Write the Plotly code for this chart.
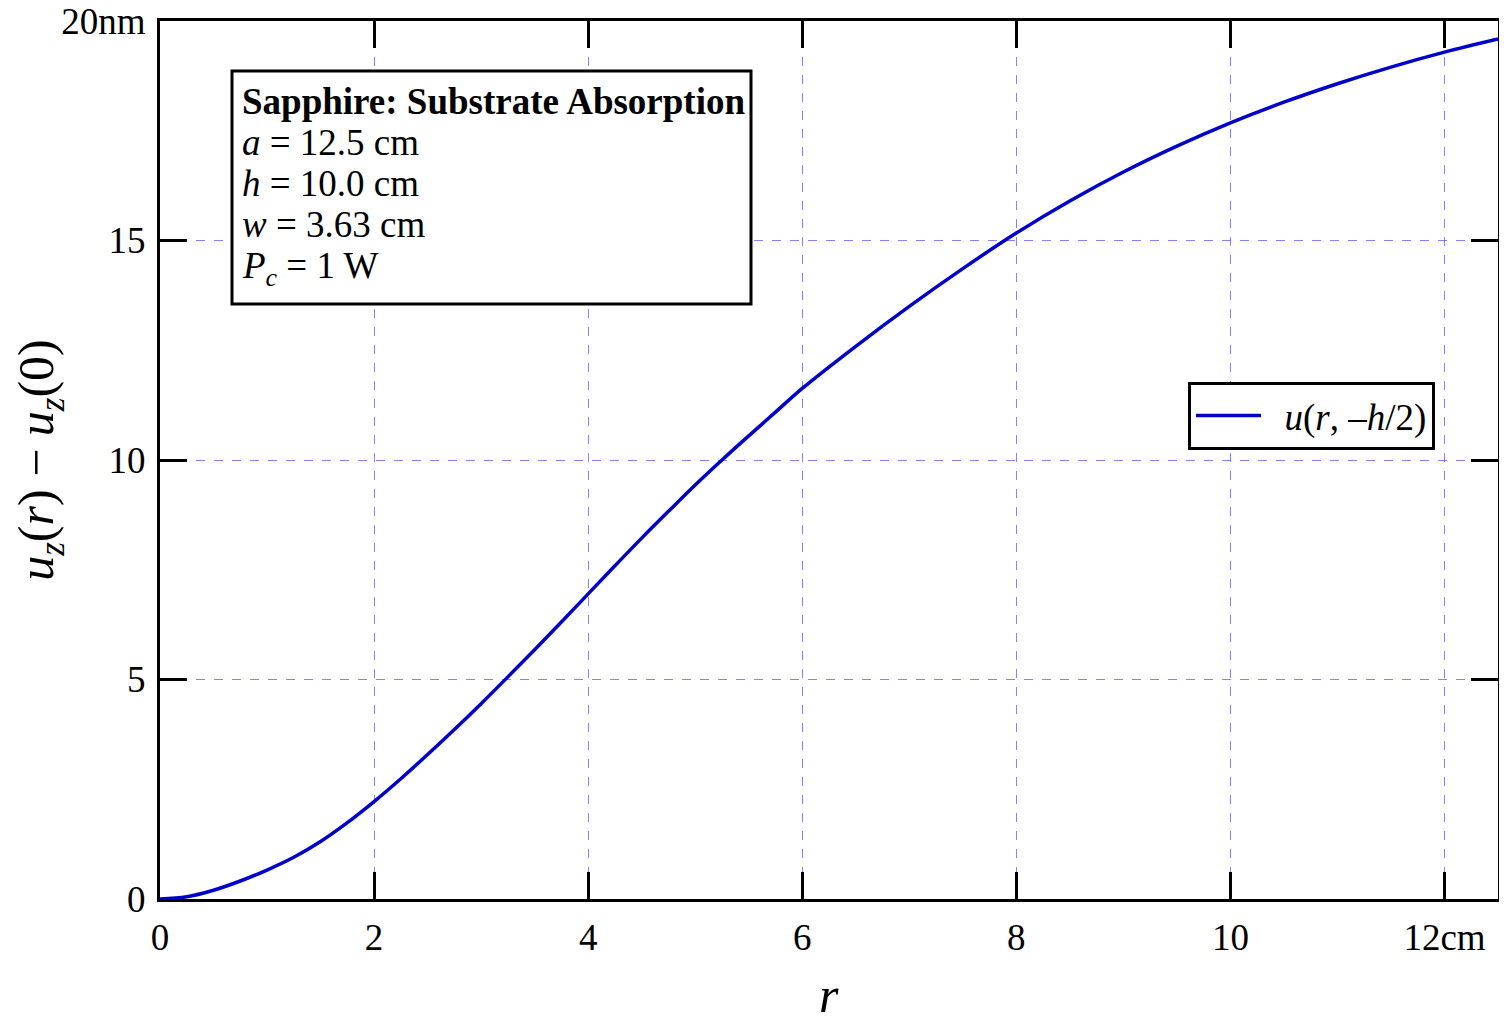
import plotly.graph_objects as go

# Data (r in cm, displacement in nm)
r_cm = [0.0, 0.25, 0.5, 0.75, 1.0, 1.25, 1.5, 1.75, 2.0, 2.25, 2.5, 2.75, 3.0, 3.25, 3.5,
        3.75, 4.0, 4.25, 4.5, 4.75, 5.0, 5.25, 5.5, 5.75, 6.0, 6.5, 7.0, 7.5, 8.0, 8.5,
        9.0, 9.5, 10.0, 10.5, 11.0, 11.5, 12.0, 12.5]
uz_nm = [0.0, 0.05, 0.20, 0.41, 0.66, 0.95, 1.31, 1.74, 2.22, 2.74, 3.29, 3.86, 4.45, 5.06, 5.68,
         6.31, 6.95, 7.59, 8.22, 8.83, 9.43, 10.00, 10.55, 11.09, 11.63, 12.59, 13.50, 14.36, 15.17, 15.90,
         16.56, 17.15, 17.68, 18.15, 18.57, 18.95, 19.29, 19.59]

x_tickvals = [0, 2, 4, 6, 8, 10, 12]
x_ticktext = ["0", "2", "4", "6", "8", "10", "12cm"]
y_tickvals = [0, 5, 10, 15, 20]
y_ticktext = ["0", "5", "10", "15", "20nm"]

info_lines = [
    "<b>Sapphire: Substrate Absorption</b>",
    "<i>a</i> = 12.5 cm",
    "<i>h</i> = 10.0 cm",
    "<i>w</i> = 3.63 cm",
    "<i>P</i><sub><i>c</i></sub> = 1 W",
]

FONT = "Liberation Serif, Times New Roman, serif"
GRID = "rgba(90,90,255,0.75)"

fig = go.Figure()
fig.add_trace(go.Scatter(
    x=r_cm, y=uz_nm, mode="lines", line=dict(color="#0000CC", width=3.5, shape="spline"),
    name="\u00a0\u00a0<i>u</i>(<i>r</i>, –<i>h</i>/2)"
))

axis_common = dict(
    showline=True, linecolor="black", linewidth=3, mirror="allticks",
    ticks="inside", ticklen=27, tickwidth=3, tickcolor="black",
    showgrid=True, gridcolor=GRID, gridwidth=1, griddash="dash",
    zeroline=False, tickfont=dict(family=FONT, size=37, color="black"),
    automargin=False, ticklabeloverflow="allow",
)

fig.update_xaxes(
    range=[0, 12.5], tickvals=x_tickvals, ticktext=x_ticktext,
    ticklabelstandoff=4,
    **axis_common
)
fig.update_yaxes(
    range=[0, 20], tickvals=y_tickvals, ticktext=y_ticktext,
    title=dict(text="<i>u</i><sub><i>z</i></sub>(<i>r</i>) − <i>u</i><sub><i>z</i></sub>(0)",
               font=dict(family=FONT, size=50, color="black"), standoff=14),
    ticklabelstandoff=4,
    **axis_common
)

# positions expressed as fractions of the plot area
PLOT_L, PLOT_R = 160, 1498
PLOT_T, PLOT_B = 21, 899
def px(pix):
    return (pix - PLOT_L) / (PLOT_R - PLOT_L)
def py(pix):
    return (PLOT_B - pix) / (PLOT_B - PLOT_T)

# x-axis title
fig.add_annotation(
    xref="paper", yref="paper", x=0.5, y=py(995), xanchor="center", yanchor="middle",
    showarrow=False, text="<i>r</i>", font=dict(family=FONT, size=50, color="black"),
)

# info box
fig.add_shape(type="rect", xref="paper", yref="paper",
              x0=px(232), x1=px(751), y0=py(304), y1=py(71),
              line=dict(color="black", width=3), fillcolor="white", layer="above")
centers = [101, 142, 183, 224, 268]
for txt, yc in zip(info_lines, centers):
    fig.add_annotation(
        xref="paper", yref="paper", x=px(240), y=py(yc),
        xanchor="left", yanchor="middle", align="left", showarrow=False,
        text=txt, font=dict(family=FONT, size=37, color="black"),
    )

fig.update_layout(
    width=1491, height=1019,
    margin=dict(l=152, r=1, t=13, b=128),
    paper_bgcolor="white", plot_bgcolor="white",
    showlegend=True,
    legend=dict(
        x=px(1435), y=py(416), xanchor="right", yanchor="middle",
        bordercolor="black", borderwidth=3, bgcolor="white",
        font=dict(family=FONT, size=37, color="black"),
        itemwidth=65,
    ),
)

fig.write_html("out.html", config={"responsive": False})
